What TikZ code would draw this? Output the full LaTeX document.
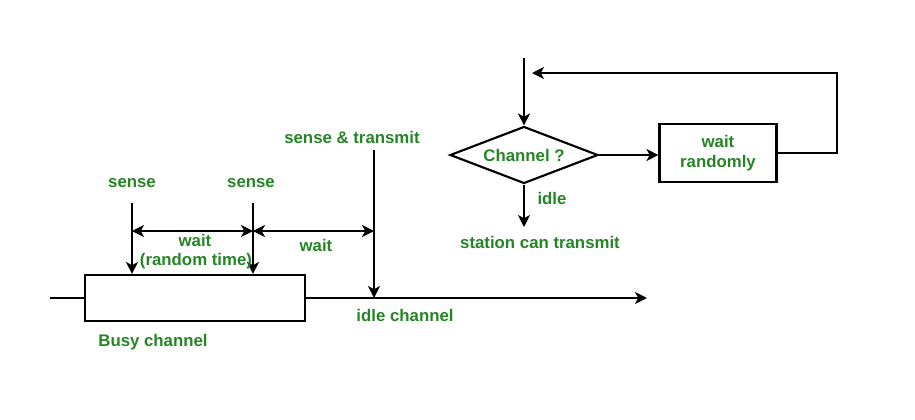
\documentclass[tikz,border=0pt]{standalone}
\usepackage{fontspec}
\setmainfont{Liberation Sans}
\usetikzlibrary{arrows.meta,shapes.geometric}
\definecolor{gfgreen}{RGB}{38,132,38}
\tikzset{
  lbl/.style={text=gfgreen,font=\fontsize{12.6}{15}\selectfont\bfseries,align=center,inner sep=0pt},
  arr/.style={-{Stealth[length=9pt,width=9pt,inset=2.5pt]}},
  dblarr/.style={{Stealth[length=9pt,width=9pt,inset=2.5pt]}-{Stealth[length=9pt,width=9pt,inset=2.5pt]}}
}
\begin{document}
\begin{tikzpicture}[x=0.75pt,y=0.75pt,yscale=-1,xscale=1,line width=1.6pt]
\path[use as bounding box] (0,0) rectangle (915,419);

%Shape: Rectangle [busy channel]
\draw (195,298) node (busy) [draw,minimum width=165pt,minimum height=34.5pt] {};
%Straight Lines
\coordinate (linestart) at (50,298);
\coordinate (lineend) at (647,298);
\draw (linestart) -- (busy.west);
\draw[arr] (busy.east) -- (lineend);

%Straight Lines [sense arrows]
\coordinate (s1) at (132,203);
\coordinate (s2) at (253,203);
\coordinate (tx) at (374,150);
\draw[arr] (s1) -- (s1 |- busy.north);
\draw[arr] (s2) -- (s2 |- busy.north);
\draw[arr] (tx) -- (tx |- lineend);

%Straight Lines [wait arrows]
\coordinate (w1) at (132,231);
\coordinate (w2) at (253,231);
\coordinate (w3) at (374,231);
\draw[dblarr] (w1) -- (w2);
\draw[dblarr] (w2) -- (w3);

% Text Node
\draw (132,183) node (sense1) [lbl] {sense};
% Text Node
\draw (251,183) node (sense2) [lbl] {sense};
% Text Node
\draw (352,137) node (sensetx) [lbl] {sense \& transmit};
% Text Node
\draw (195,240) node (wait1) [lbl] {wait};
% Text Node
\draw (196,261) node (randtime) [lbl] {(random time)};
% Text Node
\draw (316,245) node (wait2) [lbl] {wait};
% Text Node
\draw (405,315) node (idlech) [lbl] {idle channel};
% Text Node
\draw (153,342) node (busylbl) [lbl] {Busy channel};

%Shape: Diamond [channel check]
\draw (524,155) node (chan) [draw,diamond,aspect=2.6,minimum width=111pt,minimum height=42.75pt,lbl,inner sep=0pt] {Channel ?};
%Shape: Rectangle [wait randomly]
\draw (718,153) node (waitr) [draw,minimum width=87.75pt,minimum height=43.5pt,lbl,inner sep=0pt] {wait\\randomly};

%Straight Lines [flow]
\coordinate (entry) at (524,58);
\coordinate (fbcorner) at (837,73);
\coordinate (fbend) at (532,73);
\coordinate (down) at (524,227);
\draw[arr] (entry) -- (chan.north);
\draw[arr] (chan.east) -- (chan.east -| waitr.west);
\draw[arr] (waitr.east) -- (waitr.east -| fbcorner) -- (fbcorner) -- (fbend);
\draw[arr] (chan.south) -- (down);

% Text Node
\draw (552,198) node (idle) [lbl] {idle};
% Text Node
\draw (540,242) node (station) [lbl] {station can transmit};

\end{tikzpicture}
\end{document}
